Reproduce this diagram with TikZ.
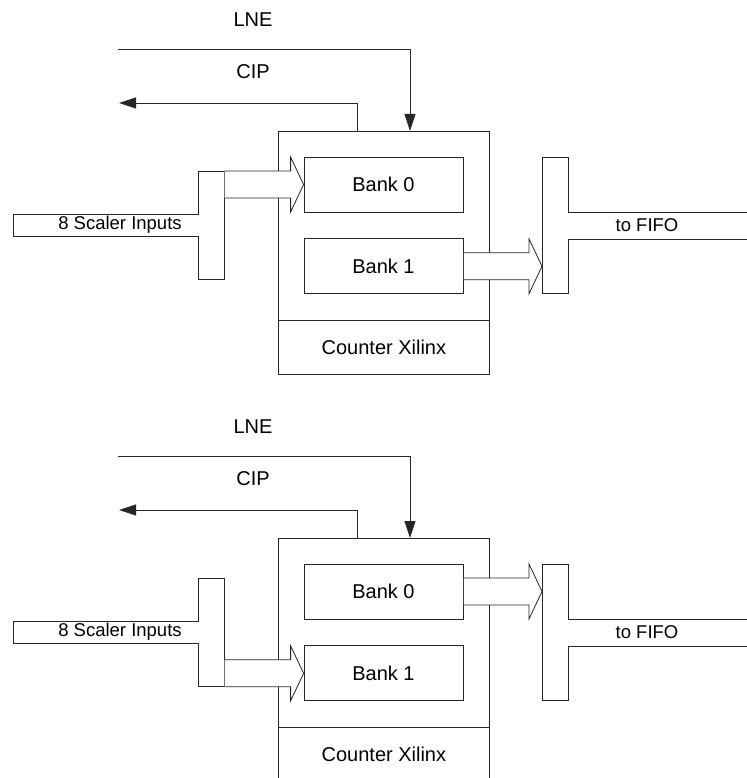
\documentclass[tikz,border=0pt]{standalone}
\usepackage{fontspec}
\setmainfont{Liberation Sans}
\usetikzlibrary{arrows.meta,calc,positioning}

\tikzset{
  blk/.style={draw=black!85, line width=0.8pt, inner sep=0pt},
  barnode/.style={inner sep=0pt, outer sep=0pt},
  sig/.style={draw=black!85, line width=0.8pt, -{Triangle[length=17pt,width=11pt]}},
  bus/.style={draw=black!85, line width=0.8pt, fill=white},
  lbl/.style={font=\fontsize{20}{24}\selectfont},
  buslbl/.style={font=\fontsize{18.5}{22}\selectfont},
}

% wide bus arrow: tail node, tip node, node giving the level
\newcommand\busarrow[3]{%
  \path (#1.east |- #3) coordinate (tail) (#2.west |- #3) coordinate (tip);
  \filldraw[bus] ($(tail)+(0.5,-13.5)$) -- ($(tip)+(-13,-13.5)$) -- ($(tip)+(-13,-27.5)$) -- (tip)
    -- ($(tip)+(-13,27.5)$) -- ($(tip)+(-13,13.5)$) -- ($(tail)+(0.5,13.5)$);
}

\begin{document}
\begin{tikzpicture}[x=1pt, y=-1pt]
\useasboundingbox (0,0) rectangle (746,778);

\foreach \yo/\src/\dst in {0/0/1, 407/1/0} {
\begin{scope}[yshift=-\yo pt]

% counter chip
\node[blk, minimum width=211pt, minimum height=243pt, anchor=north west] (xil) at (278,131) {};
\node[blk, lbl, minimum width=211pt, minimum height=54pt, anchor=south] (cnt) at (xil.south) {Counter Xilinx};
\node[blk, lbl, minimum width=159pt, minimum height=55pt] (bank0) at (383.5,184.5) {Bank 0};
\node[blk, lbl, minimum width=159pt, minimum height=55pt, below=26pt of bank0] (bank1) {Bank 1};

% control signals
\node[lbl] (lne) at (253,20) {LNE};
\node[lbl] (cip) at (253,72) {CIP};
\coordinate (lnein) at (118,49);
\coordinate (cipout) at (119,103);
\draw[sig] (lnein) -| ($(xil.north west)+(132,0)$);
\draw[sig] ($(xil.north west)+(79,0)$) |- (cipout);

% input bus
\node[barnode, minimum width=26pt, minimum height=108pt] (inbar) at (211,225) {};
\draw[blk] (13,214) -- (inbar.west |- 0,214) -- (inbar.north west) -- (inbar.north east)
  -- (inbar.south east) -- (inbar.south west) -- (inbar.west |- 0,236) -- (13,236) -- cycle;
\node[buslbl] (scaler) at (120,225) {8 Scaler Inputs};

% output bus
\node[barnode, minimum width=26pt, minimum height=136pt] (outbar) at (555,225) {};
\draw[blk] (760,212) -- (outbar.east |- 0,212) -- (outbar.north east) -- (outbar.north west)
  -- (outbar.south west) -- (outbar.south east) -- (outbar.east |- 0,239) -- (760,239);
\node[buslbl] (fifo) at (647,225.5) {to FIFO};

\busarrow{inbar}{bank\src}{bank\src}
\busarrow{bank\dst}{outbar}{bank\dst}

\end{scope}
}

\end{tikzpicture}
\end{document}
